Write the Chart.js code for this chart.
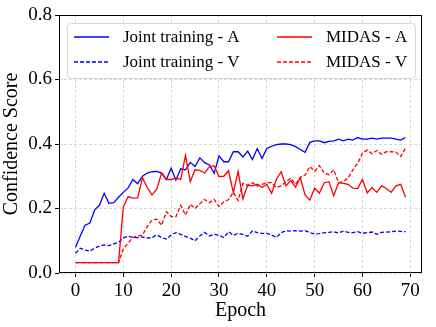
<!DOCTYPE html>
<html lang="en">
<head>
<meta charset="UTF-8">
<script src="https://cdn.jsdelivr.net/npm/chart.js"></script>
<title>Confidence Score</title>
<style>
    body { margin: 0; background: #fff; }
    #wrap { width: 436px; height: 327px; }
</style>
</head>
<body>
<div id="wrap"><canvas id="grafico" width="436" height="327"></canvas></div>
<script>
// epochs 0..69
const epochs = Array.from({length: 70}, (_, i) => i);

const jointA = [0.08, 0.115, 0.148, 0.155, 0.195, 0.21, 0.247, 0.216, 0.218, 0.235,
    0.25, 0.264, 0.29, 0.277, 0.30, 0.31, 0.314, 0.315, 0.31, 0.29,
    0.325, 0.288, 0.323, 0.32, 0.343, 0.33, 0.357, 0.342, 0.335, 0.309,
    0.363, 0.345, 0.345, 0.376, 0.376, 0.36, 0.378, 0.352, 0.386, 0.355,
    0.386, 0.393, 0.398, 0.40, 0.40, 0.398, 0.392, 0.383, 0.374, 0.405,
    0.41, 0.41, 0.404, 0.408, 0.41, 0.415, 0.41, 0.415, 0.412, 0.42,
    0.415, 0.415, 0.418, 0.415, 0.418, 0.418, 0.418, 0.415, 0.412, 0.42];

const jointV = [0.061, 0.077, 0.071, 0.068, 0.077, 0.083, 0.087, 0.085, 0.09, 0.095,
    0.108, 0.114, 0.11, 0.11, 0.112, 0.108, 0.11, 0.118, 0.11, 0.105,
    0.118, 0.125, 0.12, 0.113, 0.108, 0.10, 0.115, 0.126, 0.115, 0.12,
    0.117, 0.11, 0.128, 0.117, 0.123, 0.12, 0.114, 0.131, 0.125, 0.123,
    0.123, 0.118, 0.11, 0.125, 0.131, 0.13, 0.131, 0.13, 0.131, 0.125,
    0.121, 0.122, 0.125, 0.126, 0.128, 0.124, 0.13, 0.126, 0.125, 0.128,
    0.123, 0.125, 0.127, 0.12, 0.126, 0.127, 0.128, 0.13, 0.129, 0.128];

const midasA = [0.032, 0.032, 0.032, 0.032, 0.032, 0.032, 0.032, 0.032, 0.032, 0.032,
    0.205, 0.237, 0.232, 0.233, 0.295, 0.265, 0.242, 0.26, 0.31, 0.29,
    0.29, 0.294, 0.29, 0.365, 0.283, 0.32, 0.318, 0.31, 0.33, 0.332,
    0.299, 0.30, 0.317, 0.249, 0.315, 0.23, 0.272, 0.27, 0.275, 0.265,
    0.275, 0.247, 0.29, 0.314, 0.27, 0.287, 0.266, 0.296, 0.242, 0.226,
    0.263, 0.248, 0.28, 0.283, 0.24, 0.28, 0.278, 0.275, 0.263, 0.262,
    0.29, 0.248, 0.265, 0.25, 0.27, 0.262, 0.25, 0.27, 0.275, 0.235];

const midasV = [0.032, 0.032, 0.032, 0.032, 0.032, 0.032, 0.032, 0.032, 0.032, 0.032,
    0.075, 0.093, 0.11, 0.115, 0.118, 0.144, 0.164, 0.167, 0.148, 0.19,
    0.175, 0.175, 0.21, 0.18, 0.213, 0.20, 0.215, 0.228, 0.218, 0.228,
    0.206, 0.22, 0.228, 0.25, 0.225, 0.278, 0.272, 0.28, 0.27, 0.275,
    0.28, 0.28, 0.265, 0.27, 0.283, 0.294, 0.275, 0.296, 0.304, 0.33,
    0.315, 0.333, 0.31, 0.305, 0.32, 0.28, 0.283, 0.295, 0.32, 0.34,
    0.372, 0.381, 0.37, 0.38, 0.368, 0.376, 0.376, 0.375, 0.361, 0.387];

const xTicks = [0, 10, 20, 30, 40, 50, 60, 70];
const yTicks = [0.0, 0.2, 0.4, 0.6, 0.8];

const serif = '"Liberation Serif", "DejaVu Serif", serif';

function serie(label, values, color, dashed, order) {
    return {
        label: label,
        data: values.map((v, i) => ({x: epochs[i], y: v})),
        borderColor: color,
        backgroundColor: color,
        borderWidth: 1.3,
        borderDash: dashed ? [4, 2] : [],
        pointRadius: 0,
        tension: 0,
        fill: false,
        order: order
    };
}

// black frame round the plot, like matplotlib spines
const marco = {
    id: 'marco',
    afterDatasetsDraw(chart) {
        const {ctx, chartArea: a} = chart;
        ctx.save();
        ctx.strokeStyle = '#000';
        ctx.lineWidth = 1;
        ctx.strokeRect(Math.round(a.left) + 0.5, Math.round(a.top) + 0.5,
            Math.round(a.right - a.left) - 1, Math.round(a.bottom - a.top) - 1);
        ctx.restore();
    }
};

// two column legend in a rounded box
const leyenda = {
    id: 'leyenda',
    afterDraw(chart) {
        const ctx = chart.ctx;
        const x = 67, y = 23, w = 348, h = 55, r = 4;
        ctx.save();
        ctx.beginPath();
        ctx.roundRect(x + 0.5, y + 0.5, w, h, r);
        ctx.fillStyle = 'rgba(255,255,255,0.8)';
        ctx.fill();
        ctx.strokeStyle = '#d6d6d6';
        ctx.lineWidth = 1;
        ctx.stroke();
        ctx.font = '17px ' + serif;
        ctx.textBaseline = 'middle';
        ctx.fillStyle = '#000';
        chart.data.datasets.forEach((ds, i) => {
            const col = Math.floor(i / 2), row = i % 2;
            const lx = col ? 277 : 74;
            const ly = row ? 62 : 37;
            ctx.beginPath();
            ctx.setLineDash(ds.borderDash);
            ctx.strokeStyle = ds.borderColor;
            ctx.lineWidth = ds.borderWidth;
            ctx.moveTo(lx, ly);
            ctx.lineTo(lx + 35, ly);
            ctx.stroke();
            ctx.setLineDash([]);
            ctx.fillText(ds.label, lx + 49, ly + 1);
        });
        ctx.restore();
    }
};

new Chart(document.getElementById('grafico'), {
    type: 'line',
    data: {
        datasets: [
            serie('Joint training - A', jointA, 'blue', false, 4),
            serie('Joint training - V', jointV, 'blue', true, 3),
            serie('MIDAS - A', midasA, 'red', false, 2),
            serie('MIDAS - V', midasV, 'red', true, 1)
        ]
    },
    options: {
        responsive: false,
        animation: false,
        layout: { padding: { left: 0, top: 15, right: 14, bottom: 0 } },
        plugins: { legend: { display: false }, tooltip: { enabled: false } },
        scales: {
            x: {
                type: 'linear',
                min: -3.45,
                max: 72.45,
                afterBuildTicks: s => { s.ticks = xTicks.map(v => ({value: v})); },
                afterFit: s => { s.height = 54; },
                grid: { color: '#dadada', tickColor: '#000', tickLength: 4, tickBorderDash: [] },
                border: { display: false, dash: [3, 2] },
                ticks: { color: '#000', font: { family: serif, size: 19 }, padding: 3, maxRotation: 0 },
                title: { display: true, text: 'Epoch', color: '#000', font: { family: serif, size: 20 }, padding: { top: 0 } }
            },
            y: {
                min: 0,
                max: 0.8,
                afterBuildTicks: s => { s.ticks = yTicks.map(v => ({value: v})); },
                afterFit: s => { s.width = 59; },
                grid: { color: '#dadada', tickColor: '#000', tickLength: 4, tickBorderDash: [] },
                border: { display: false, dash: [3, 2] },
                ticks: { color: '#000', font: { family: serif, size: 19 }, padding: 3, callback: v => v.toFixed(1) },
                title: { display: true, text: 'Confidence Score', color: '#000', font: { family: serif, size: 20 }, padding: { top: 0, bottom: 0 } }
            }
        }
    },
    plugins: [marco, leyenda]
});
</script>
</body>
</html>
